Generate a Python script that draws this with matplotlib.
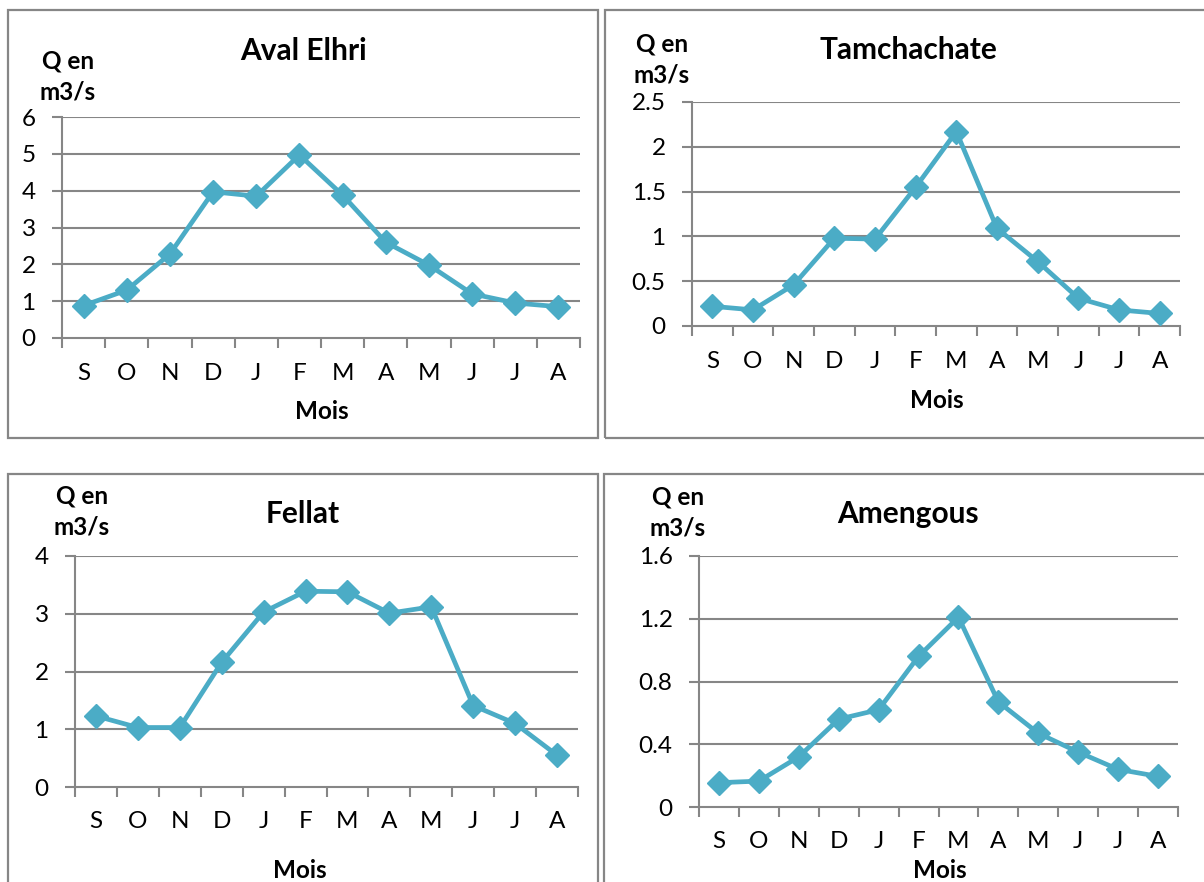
import matplotlib
matplotlib.use("Agg")
import matplotlib.pyplot as plt
from matplotlib.patches import Rectangle

plt.rcParams['font.family'] = ['Lato', 'DejaVu Sans']

months = ["S", "O", "N", "D", "J", "F", "M", "A", "M", "J", "J", "A"]

aval_elhri = [0.88, 1.30, 2.28, 3.97, 3.85, 4.97, 3.88, 2.60, 1.98, 1.20, 0.95, 0.85]
tamchachate = [0.22, 0.18, 0.46, 0.98, 0.97, 1.55, 2.17, 1.09, 0.72, 0.31, 0.18, 0.14]
fellat = [1.23, 1.03, 1.03, 2.16, 3.03, 3.39, 3.38, 3.01, 3.12, 1.41, 1.10, 0.55]
amengous = [0.155, 0.165, 0.32, 0.56, 0.62, 0.96, 1.21, 0.67, 0.47, 0.35, 0.24, 0.195]

yticks_aval = [0, 1, 2, 3, 4, 5, 6]
yticks_tam = [0, 0.5, 1, 1.5, 2, 2.5]
yticks_fel = [0, 1, 2, 3, 4]
yticks_ame = [0, 0.4, 0.8, 1.2, 1.6]
ylabels_aval = ["0", "1", "2", "3", "4", "5", "6"]
ylabels_tam = ["0", "0.5", "1", "1.5", "2", "2.5"]
ylabels_fel = ["0", "1", "2", "3", "4"]
ylabels_ame = ["0", "0.4", "0.8", "1.2", "1.6"]

W, H = 1204, 882
LINE = "#4BACC6"
GRID = "#868686"
TICK_FS = 17.5
LABEL_FS = 17.5
TITLE_FS = 21.5

fig = plt.figure(figsize=(W / 100, H / 100), dpi=100)
fig.patch.set_facecolor("white")


def fx(x):
    return x / W


def fy(y):
    return 1 - y / H


def panel(box, plot, title, values, yticks, ylabels, title_xy, qen_xy, mois_xy, tick_y):
    # outer frame of the chart
    bx0, by0, bx1, by1 = box
    fig.patches.append(Rectangle((fx(bx0), fy(by1)), (bx1 - bx0) / W, (by1 - by0) / H,
                                 transform=fig.transFigure, fill=False,
                                 edgecolor=GRID, linewidth=1.6, zorder=0))
    x0, y0, x1, y1 = plot
    ax = fig.add_axes([fx(x0), fy(y1), (x1 - x0) / W, (y1 - y0) / H])
    n = len(values)
    xs = [i + 0.5 for i in range(n)]
    ax.plot(xs, values, color=LINE, linewidth=3.4, marker="D", markersize=12,
            markerfacecolor=LINE, markeredgecolor=LINE, clip_on=False, zorder=3)
    ax.set_xlim(0, n)
    ax.set_ylim(yticks[0], yticks[-1])
    for yv in yticks[1:]:
        ax.axhline(yv, color=GRID, linewidth=1.5, zorder=1)
    ax.set_yticks(yticks)
    ax.set_yticklabels(ylabels)
    ax.set_xticks(range(n + 1))
    ax.set_xticklabels([])
    ax.tick_params(axis="x", which="major", length=7, width=1.5, color=GRID, direction="out")
    ax.tick_params(axis="y", length=7, width=1.5, color=GRID, direction="out",
                   labelsize=TICK_FS, pad=12)
    # month labels at a fixed pixel height below the plot
    for xv, m in zip(xs, months):
        xpix = x0 + (x1 - x0) * xv / n
        fig.text(fx(xpix), fy(tick_y), m, ha="center", va="center", fontsize=TICK_FS)
    for s in ["top", "right"]:
        ax.spines[s].set_visible(False)
    for s in ["left", "bottom"]:
        ax.spines[s].set_color(GRID)
        ax.spines[s].set_linewidth(1.5)
    ax.set_facecolor("none")
    fig.text(fx(title_xy[0]), fy(title_xy[1]), title, ha="center", va="center",
             fontsize=TITLE_FS, fontweight="bold")
    fig.text(fx(qen_xy[0]), fy(qen_xy[1]), "Q en", ha="center", va="center",
             fontsize=LABEL_FS, fontweight="bold")
    fig.text(fx(qen_xy[0]), fy(qen_xy[1] + 31), "m3/s", ha="center", va="center",
             fontsize=LABEL_FS, fontweight="bold")
    fig.text(fx(mois_xy[0]), fy(mois_xy[1]), "Mois", ha="center", va="center",
             fontsize=LABEL_FS, fontweight="bold")
    return ax


panel((8, 10, 598, 438), (62, 117, 580, 338), "Aval Elhri", aval_elhri,
      yticks_aval, ylabels_aval, (303, 51), (68, 61), (322, 412), 373)
panel((605, 10, 1210, 438), (692, 102, 1180, 326), "Tamchachate", tamchachate,
      yticks_tam, ylabels_tam, (908, 50), (662, 44), (937, 400), 361)
panel((8, 474, 598, 900), (75, 556, 578, 787), "Fellat", fellat,
      yticks_fel, ylabels_fel, (303, 514), (82, 496), (300, 870), 821)
panel((604, 474, 1210, 900), (699, 556, 1178, 807), "Amengous", amengous,
      yticks_ame, ylabels_ame, (908, 514), (678, 497), (940, 870), 842)

fig.savefig("out.png", dpi=100, facecolor="white")
